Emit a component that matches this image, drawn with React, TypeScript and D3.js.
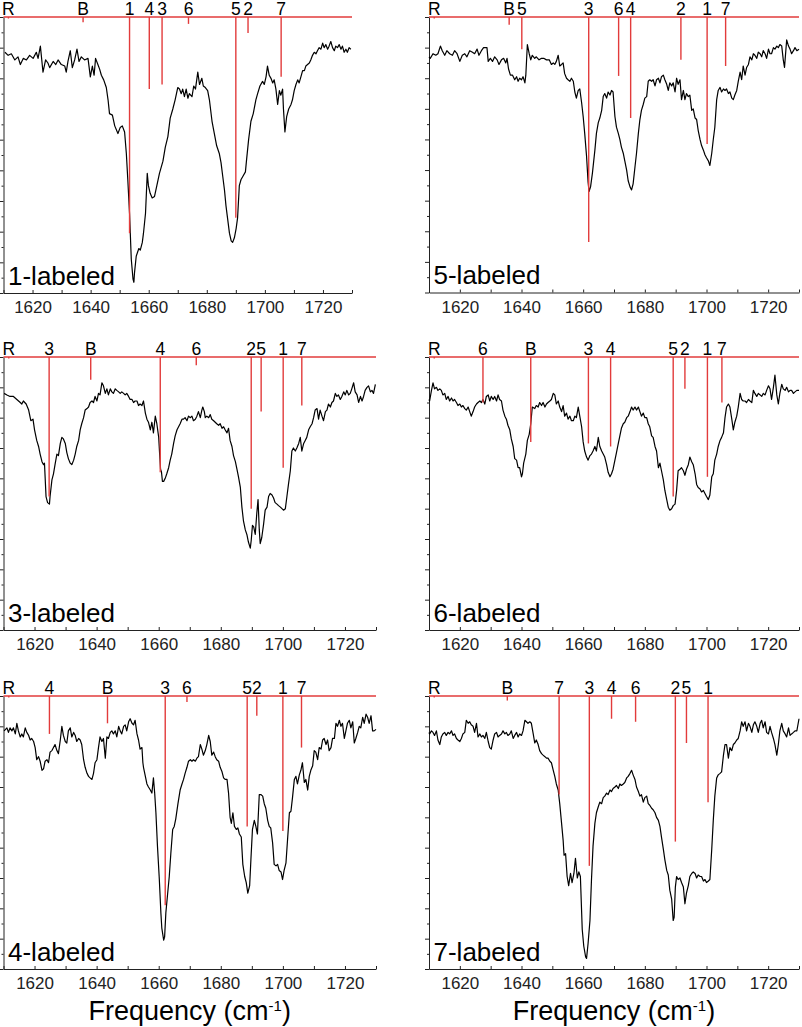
import React, { useEffect, useRef } from 'react'
import * as d3 from 'd3'

// spectra: [frequency cm-1, signal]
const spec1: [number, number][] = [
  [1610.5,15.7],[1611.6,15.5],[1612.7,15.6],[1613.9,15.2],[1615.0,15.4],[1615.8,14.9],[1616.8,15.3],[1617.9,15.2],[1619.0,15.5],[1620.2,15.3],
  [1621.3,15.7],[1621.9,15.3],[1622.7,16.1],[1623.6,14.4],[1624.5,15.2],[1625.3,15.0],[1625.9,14.7],[1627.1,15.1],[1628.0,14.9],[1628.8,15.2],
  [1629.9,14.9],[1631.1,14.8],[1631.6,14.4],[1632.2,15.1],[1633.0,15.8],[1633.7,14.7],[1634.5,15.2],[1635.3,15.9],[1636.0,15.1],[1636.8,15.4],
  [1637.9,15.2],[1639.1,15.3],[1639.9,14.1],[1640.6,14.8],[1641.2,14.2],[1641.7,15.3],[1642.5,14.9],[1643.1,14.6],[1643.7,14.2],[1644.5,13.9],
  [1645.4,13.4],[1646.0,12.6],[1646.5,11.7],[1647.5,11.6],[1648.3,10.9],[1649.4,10.4],[1650.2,10.8],[1650.9,10.9],[1651.7,10.5],[1652.3,9.1],
  [1652.8,7.4],[1653.4,5.2],[1654.0,2.2],[1654.6,0.9],[1654.9,0.7],[1655.1,1.3],[1655.7,2.4],[1656.6,2.9],[1657.1,2.8],[1657.8,3.3],
  [1658.2,3.9],[1658.9,5.2],[1659.5,7.8],[1659.9,7.0],[1660.5,6.5],[1661.2,6.2],[1662.0,6.3],[1662.8,7.0],[1663.7,7.8],[1664.9,8.6],
  [1665.7,9.5],[1666.6,10.2],[1667.4,11.4],[1668.3,12.0],[1669.1,12.6],[1670.0,13.4],[1670.6,13.3],[1671.2,13.0],[1671.7,13.3],[1672.3,12.8],
  [1672.9,13.3],[1673.5,12.7],[1674.0,13.0],[1674.9,12.8],[1675.5,13.5],[1676.1,13.3],[1676.9,14.4],[1677.5,13.6],[1678.3,14.0],[1678.8,13.5],
  [1679.5,13.4],[1680.3,13.2],[1680.9,12.6],[1681.8,11.2],[1682.6,10.4],[1683.4,9.6],[1684.3,9.1],[1684.9,8.5],[1685.5,7.6],[1686.1,6.7],
  [1686.6,5.7],[1687.2,4.8],[1687.8,3.9],[1688.4,3.4],[1688.9,3.3],[1689.5,3.6],[1690.1,4.2],[1690.6,4.9],[1691.2,7.0],[1691.8,7.4],
  [1692.4,7.6],[1693.3,7.9],[1693.7,8.7],[1694.4,10.0],[1695.2,11.2],[1696.0,11.7],[1696.9,12.6],[1697.5,13.0],[1698.3,13.5],[1699.2,13.8],
  [1699.8,13.6],[1700.4,14.1],[1700.9,14.8],[1701.5,14.2],[1702.1,14.0],[1702.7,13.7],[1703.2,13.9],[1703.8,13.3],[1704.4,12.3],[1705.0,13.2],
  [1705.5,12.9],[1706.1,13.3],[1706.4,12.0],[1706.9,10.5],[1707.5,11.5],[1708.2,12.0],[1709.0,12.3],[1709.5,12.6],[1710.1,13.2],[1710.7,13.6],
  [1711.3,13.9],[1711.8,13.7],[1712.4,14.1],[1713.0,14.5],[1713.6,14.5],[1714.1,14.8],[1714.7,14.9],[1715.3,15.0],[1715.8,15.2],[1716.4,15.5],
  [1717.0,15.7],[1717.6,15.6],[1718.1,15.8],[1718.7,16.0],[1719.3,15.9],[1719.9,16.3],[1720.4,16.0],[1721.0,16.2],[1721.6,15.9],[1722.1,16.1],
  [1722.7,16.4],[1723.3,16.0],[1723.9,15.8],[1724.4,16.1],[1725.0,16.0],[1725.6,16.2],[1726.2,15.9],[1726.7,16.1],[1727.3,15.7],[1727.9,15.9],
  [1728.4,15.7],[1729.0,16.0],[1729.6,15.9]
]

const spec2: [number, number][] = [
  [1610.0,15.4],[1610.4,15.3],[1611.3,15.6],[1612.2,15.5],[1612.9,15.6],[1613.7,16.1],[1614.3,15.8],[1615.1,15.5],[1615.8,15.8],[1616.7,15.6],
  [1617.6,15.5],[1618.3,15.8],[1619.1,15.6],[1620.0,15.1],[1620.8,15.5],[1621.6,15.6],[1622.3,15.4],[1623.2,15.8],[1624.1,15.7],[1624.8,15.6],
  [1625.6,15.9],[1626.2,15.5],[1627.0,15.8],[1627.7,16.0],[1628.4,16.0],[1628.8,16.0],[1629.2,15.1],[1629.9,15.3],[1630.6,15.1],[1631.3,15.4],
  [1632.1,15.2],[1632.7,14.9],[1633.5,15.2],[1634.2,15.3],[1634.9,15.0],[1635.3,15.3],[1635.8,14.6],[1636.4,14.2],[1637.1,14.2],[1637.8,13.9],
  [1638.4,14.1],[1638.9,13.8],[1639.4,14.0],[1640.0,13.9],[1640.5,14.1],[1641.1,13.7],[1641.4,14.2],[1641.9,16.2],[1642.5,15.6],[1643.0,15.2],
  [1643.5,15.5],[1644.3,15.3],[1644.8,15.4],[1645.7,15.2],[1646.5,15.3],[1647.2,15.3],[1648.1,15.2],[1649.0,15.2],[1649.7,14.9],[1650.3,15.0],
  [1650.8,14.9],[1651.3,15.1],[1651.9,15.5],[1652.4,14.8],[1653.0,14.9],[1653.5,15.0],[1654.0,14.3],[1654.6,14.0],[1655.1,13.9],[1655.7,13.8],
  [1656.2,14.0],[1656.8,13.8],[1657.3,13.1],[1657.8,12.7],[1658.4,13.2],[1658.9,13.3],[1659.5,12.4],[1660.0,11.5],[1660.5,10.4],[1661.1,8.9],
  [1661.6,7.2],[1661.9,6.6],[1662.4,6.9],[1663.0,7.8],[1663.8,9.3],[1664.3,10.4],[1664.9,11.1],[1665.4,11.4],[1666.0,11.9],[1666.5,12.8],
  [1667.0,13.0],[1667.6,12.7],[1668.1,13.1],[1668.7,12.9],[1669.2,13.2],[1669.7,13.1],[1670.3,11.5],[1670.8,10.8],[1671.4,10.4],[1671.9,10.0],
  [1672.4,9.5],[1673.0,9.1],[1673.5,8.6],[1674.1,8.0],[1674.6,7.3],[1675.2,6.9],[1675.7,6.7],[1676.2,7.1],[1676.8,8.2],[1677.3,9.1],
  [1677.9,10.4],[1678.4,11.3],[1678.9,11.9],[1679.5,12.3],[1680.0,12.7],[1680.6,12.8],[1681.1,13.8],[1681.6,13.9],[1682.2,13.8],[1682.7,13.9],
  [1683.3,13.5],[1683.8,13.9],[1684.4,14.0],[1684.9,13.7],[1685.4,14.1],[1686.0,14.2],[1686.5,13.9],[1687.1,13.6],[1687.6,13.2],[1688.1,13.7],
  [1688.7,13.5],[1689.2,13.7],[1689.8,13.1],[1690.3,14.0],[1690.8,13.6],[1691.4,13.9],[1691.9,12.6],[1692.5,13.2],[1693.0,12.6],[1693.5,13.0],
  [1694.1,12.8],[1694.6,12.9],[1695.2,11.9],[1695.7,12.0],[1696.3,11.4],[1696.8,11.3],[1697.3,10.6],[1697.9,10.0],[1698.4,9.6],[1699.0,9.3],
  [1699.5,9.0],[1700.0,8.8],[1700.6,8.6],[1701.1,8.3],[1701.7,9.1],[1702.2,10.0],[1702.7,10.8],[1703.3,12.6],[1703.8,13.2],[1704.4,13.4],
  [1704.9,13.1],[1705.5,13.3],[1706.0,13.2],[1706.5,13.3],[1707.1,13.0],[1707.6,13.1],[1708.2,12.7],[1708.7,12.6],[1709.2,12.9],[1709.8,13.2],
  [1710.3,13.8],[1710.9,14.4],[1711.4,13.9],[1711.9,14.8],[1712.5,14.2],[1713.0,14.7],[1713.6,14.9],[1714.1,15.4],[1714.7,15.2],[1715.2,15.6],
  [1715.7,15.5],[1716.3,15.3],[1716.8,15.7],[1717.4,15.6],[1717.9,15.4],[1718.4,15.8],[1719.0,15.6],[1719.5,15.3],[1720.1,15.9],[1720.6,15.6],
  [1721.1,15.6],[1721.7,16.0],[1722.2,15.9],[1722.8,16.1],[1723.3,16.0],[1723.8,16.2],[1724.4,16.1],[1724.9,15.2],[1725.3,14.7],[1726.0,16.5],
  [1726.6,16.1],[1727.1,15.9],[1727.6,15.6],[1728.2,15.8],[1728.7,16.0],[1729.3,15.8],[1730.0,15.9]
]

const spec3: [number, number][] = [
  [1610.2,15.6],[1611.1,15.5],[1612.1,15.4],[1613.2,15.4],[1614.3,15.2],[1615.4,15.0],[1615.9,14.9],[1616.4,15.1],[1617.3,14.9],[1618.1,14.5],
  [1618.8,13.8],[1619.5,13.9],[1620.0,13.2],[1620.7,12.5],[1621.3,12.1],[1621.8,11.6],[1622.4,11.1],[1622.9,10.9],[1623.2,11.0],[1623.7,8.8],
  [1624.2,8.4],[1624.8,8.3],[1625.0,8.8],[1625.6,9.9],[1626.1,10.3],[1626.6,10.9],[1627.2,11.6],[1627.7,11.5],[1628.3,12.3],[1628.8,12.7],
  [1629.3,12.6],[1629.9,12.3],[1630.4,11.7],[1630.9,11.3],[1631.5,11.0],[1632.0,10.9],[1632.6,11.2],[1633.1,11.6],[1633.6,12.1],[1634.2,12.5],
  [1634.7,13.2],[1635.2,13.6],[1635.8,14.0],[1636.3,14.5],[1636.9,14.6],[1637.4,14.7],[1637.9,15.0],[1638.5,15.1],[1639.0,15.0],[1639.5,15.4],
  [1640.1,15.1],[1640.6,15.6],[1641.1,15.5],[1641.7,16.3],[1642.2,16.1],[1642.8,15.6],[1643.3,15.9],[1643.8,15.5],[1644.4,15.9],[1644.9,15.7],
  [1645.4,15.6],[1646.0,15.9],[1646.5,15.8],[1647.1,15.7],[1647.6,15.6],[1648.1,15.7],[1648.7,15.6],[1649.2,15.5],[1649.7,15.6],[1650.3,15.4],
  [1650.8,15.2],[1651.4,15.2],[1651.9,15.0],[1652.4,15.1],[1653.0,15.1],[1653.5,14.8],[1654.0,14.9],[1654.6,14.8],[1655.1,15.1],[1655.7,14.3],
  [1656.2,13.9],[1656.7,13.7],[1657.3,13.2],[1657.8,13.7],[1658.3,13.0],[1658.9,14.1],[1659.4,13.6],[1660.0,12.7],[1660.3,11.6],[1660.6,10.6],
  [1660.9,10.4],[1661.2,9.8],[1661.6,9.8],[1662.1,10.0],[1662.6,10.3],[1663.2,10.7],[1663.7,11.2],[1664.2,11.6],[1664.8,12.3],[1665.3,12.8],
  [1665.9,13.2],[1666.4,13.4],[1666.9,13.6],[1667.5,13.9],[1668.0,13.9],[1668.5,14.0],[1669.1,13.8],[1669.6,14.1],[1670.2,14.0],[1670.7,14.1],
  [1671.2,13.8],[1671.8,13.9],[1672.3,14.1],[1672.8,14.4],[1673.4,14.0],[1673.9,14.5],[1674.2,14.7],[1674.7,14.4],[1675.0,14.0],[1675.5,14.1],
  [1676.1,14.0],[1676.6,14.2],[1677.1,13.9],[1677.7,13.8],[1678.2,13.7],[1678.7,13.6],[1679.3,13.5],[1679.8,13.6],[1680.4,13.3],[1680.9,13.4],
  [1681.4,13.2],[1682.0,13.0],[1682.5,13.3],[1683.0,12.5],[1683.6,12.1],[1684.1,11.5],[1684.7,11.1],[1685.2,10.6],[1685.7,10.1],[1686.3,9.4],
  [1686.8,8.1],[1687.3,7.2],[1687.9,6.6],[1688.4,6.3],[1688.9,5.8],[1689.5,5.4],[1689.8,5.9],[1690.2,6.9],[1690.6,6.8],[1691.1,6.3],
  [1691.6,7.7],[1692.0,8.6],[1692.4,6.6],[1692.7,5.7],[1693.2,6.1],[1693.8,7.0],[1694.3,7.9],[1694.9,8.1],[1695.4,8.8],[1695.9,9.0],
  [1696.5,8.9],[1697.0,8.7],[1697.5,8.4],[1698.1,8.3],[1698.6,8.2],[1699.2,8.1],[1699.7,8.0],[1700.2,7.9],[1700.8,8.0],[1701.3,8.8],
  [1701.8,9.6],[1702.4,10.5],[1702.9,11.8],[1703.4,12.0],[1704.0,11.8],[1704.5,12.0],[1705.1,12.3],[1705.6,12.7],[1706.1,11.8],[1706.7,12.3],
  [1707.2,12.5],[1707.7,12.7],[1708.3,13.2],[1708.8,13.4],[1709.4,13.6],[1709.9,14.0],[1710.4,14.5],[1711.0,14.6],[1711.5,13.9],[1712.0,14.5],
  [1712.6,14.1],[1713.1,13.8],[1713.7,14.4],[1714.2,14.5],[1714.7,14.9],[1715.3,14.7],[1715.8,15.0],[1716.3,15.1],[1716.9,15.6],[1717.4,15.4],
  [1717.9,15.5],[1718.5,15.2],[1719.0,15.4],[1719.6,15.7],[1720.1,15.5],[1720.6,15.8],[1721.2,15.5],[1721.7,15.6],[1722.2,15.9],[1722.8,16.3],
  [1723.3,15.7],[1723.9,15.5],[1724.4,15.0],[1725.0,15.4],[1725.5,15.1],[1726.0,15.4],[1726.5,15.8],[1727.1,16.0],[1727.6,16.1],[1728.2,15.7],
  [1728.7,15.8],[1729.2,15.6],[1729.8,16.2]
]

const spec4: [number, number][] = [
  [1610.0,15.2],[1610.2,15.1],[1610.8,15.8],[1611.3,16.3],[1611.8,15.9],[1612.4,16.0],[1612.9,15.8],[1613.5,15.9],[1614.0,15.8],[1614.5,15.5],
  [1615.1,15.6],[1615.6,15.2],[1616.2,15.4],[1616.7,15.1],[1617.3,15.3],[1617.8,15.1],[1618.3,15.2],[1618.9,15.0],[1619.4,14.8],[1620.0,14.9],
  [1620.5,14.7],[1621.0,14.8],[1621.6,14.6],[1622.1,14.5],[1622.7,14.7],[1623.2,14.4],[1623.7,14.1],[1624.3,14.4],[1624.8,14.7],[1625.4,14.9],
  [1625.9,15.0],[1626.5,15.1],[1627.0,15.0],[1627.5,15.2],[1628.1,14.9],[1628.6,15.4],[1629.2,15.5],[1629.7,15.1],[1630.2,15.4],[1630.8,15.2],
  [1631.3,15.4],[1631.9,15.1],[1632.4,15.5],[1632.9,15.2],[1633.5,15.1],[1634.0,14.5],[1634.6,14.1],[1635.1,13.9],[1635.6,13.5],[1636.2,13.2],
  [1636.7,12.6],[1637.3,12.1],[1637.8,11.3],[1638.4,11.2],[1638.9,10.7],[1639.4,10.7],[1640.0,10.1],[1640.3,10.3],[1640.7,11.0],[1641.4,11.6],
  [1641.9,12.5],[1642.5,12.9],[1643.0,13.6],[1643.5,14.7],[1644.3,14.6],[1644.8,14.8],[1645.4,14.7],[1645.9,15.0],[1646.5,14.8],[1647.0,15.0],
  [1647.6,14.7],[1648.1,14.9],[1648.6,15.0],[1649.2,15.1],[1649.7,15.2],[1650.3,15.6],[1650.8,15.5],[1651.3,14.9],[1651.9,15.1],[1652.4,14.7],
  [1653.0,14.4],[1653.5,14.8],[1654.0,14.1],[1654.6,14.3],[1655.1,13.9],[1655.7,14.1],[1656.2,13.8],[1656.8,13.8],[1657.3,14.1],[1657.8,14.0],
  [1658.4,14.7],[1658.9,14.1],[1659.5,13.4],[1660.0,12.4],[1660.5,11.8],[1661.1,11.4],[1661.6,11.2],[1662.2,11.5],[1662.7,11.6],[1663.2,11.8],
  [1663.8,12.1],[1664.3,11.8],[1664.9,12.7],[1665.4,12.1],[1666.0,11.8],[1666.5,11.6],[1667.0,11.4],[1667.6,10.9],[1668.1,10.4],[1668.7,10.1],
  [1669.2,10.3],[1669.7,10.6],[1670.3,11.2],[1670.8,11.7],[1671.4,12.3],[1671.9,12.8],[1672.4,13.3],[1673.0,13.6],[1673.5,13.7],[1674.1,14.0],
  [1674.6,14.1],[1675.2,14.4],[1675.7,14.7],[1676.2,14.5],[1676.8,14.7],[1677.3,14.5],[1677.9,14.7],[1678.4,14.4],[1678.9,14.1],[1679.5,14.3],
  [1680.0,14.0],[1680.6,14.0],[1681.1,13.6],[1681.6,13.4],[1682.2,12.8],[1682.7,12.7],[1683.3,12.1],[1683.8,11.8],[1684.4,10.7],[1684.9,11.0],
  [1685.4,10.5],[1686.0,9.9],[1686.5,9.2],[1687.1,8.6],[1687.6,8.1],[1688.1,7.9],[1688.7,8.0],[1689.2,8.2],[1689.8,8.3],[1690.3,9.2],
  [1690.8,10.5],[1691.4,10.6],[1691.9,10.7],[1692.5,10.5],[1693.0,10.2],[1693.5,10.6],[1694.1,10.9],[1694.6,11.4],[1695.2,11.1],[1695.7,10.9],
  [1696.3,10.3],[1696.8,9.6],[1697.3,9.4],[1697.9,9.3],[1698.4,9.1],[1699.0,9.2],[1699.5,9.0],[1700.0,8.8],[1700.6,8.6],[1701.1,8.9],
  [1701.7,10.1],[1702.2,10.3],[1702.7,11.2],[1703.3,11.6],[1703.8,12.1],[1704.4,12.5],[1704.9,12.7],[1705.5,13.0],[1706.0,14.0],[1706.5,14.7],
  [1707.1,14.9],[1707.6,14.7],[1708.2,13.9],[1708.7,13.2],[1709.2,13.7],[1709.8,14.1],[1710.3,14.7],[1710.9,15.6],[1711.4,15.2],[1711.9,15.1],
  [1712.5,15.1],[1713.0,15.0],[1713.6,15.2],[1714.1,15.1],[1714.7,15.0],[1715.2,15.8],[1715.7,15.6],[1716.3,15.4],[1716.8,15.6],[1717.4,15.5],
  [1717.9,15.4],[1718.4,15.6],[1719.0,15.5],[1719.5,15.8],[1720.1,16.1],[1720.6,15.9],[1721.1,15.2],[1721.7,16.0],[1722.2,16.8],[1722.8,15.5],
  [1723.3,14.9],[1723.8,15.6],[1724.4,16.2],[1724.9,15.9],[1725.5,15.8],[1726.0,16.0],[1726.6,15.7],[1727.1,15.8],[1727.6,15.8],[1728.2,15.6],
  [1728.7,15.7],[1729.3,15.8],[1730.0,15.8]
]

const spec5: [number, number][] = [
  [1610.2,15.7],[1611.1,15.9],[1611.6,15.6],[1612.1,15.9],[1612.7,15.7],[1613.2,15.9],[1613.8,15.5],[1614.3,16.2],[1614.8,15.7],[1615.4,15.3],
  [1615.9,15.5],[1616.4,15.3],[1617.0,15.9],[1617.5,15.6],[1618.1,15.4],[1618.6,15.1],[1619.1,15.2],[1619.7,15.0],[1620.2,14.6],[1620.7,13.8],
  [1621.3,14.0],[1621.8,13.7],[1622.4,13.1],[1622.9,13.2],[1623.4,13.7],[1624.0,13.8],[1624.5,13.6],[1625.0,14.3],[1625.6,14.4],[1626.1,14.6],
  [1626.6,14.8],[1627.2,14.4],[1627.7,14.2],[1628.3,15.1],[1628.8,16.0],[1629.3,15.4],[1629.9,15.0],[1630.4,14.9],[1630.9,15.7],[1631.5,15.9],
  [1632.0,15.3],[1632.6,15.6],[1633.1,15.4],[1633.6,15.0],[1634.2,15.2],[1634.7,15.1],[1635.2,14.8],[1635.8,13.8],[1636.3,13.3],[1636.9,12.9],
  [1637.4,12.7],[1637.9,12.6],[1638.5,12.5],[1639.0,12.9],[1639.5,13.6],[1640.1,13.8],[1640.6,14.6],[1641.1,15.3],[1641.7,15.0],[1642.2,15.2],
  [1642.8,13.9],[1643.3,15.3],[1643.8,15.2],[1644.4,15.6],[1644.9,15.7],[1645.4,15.5],[1646.0,15.7],[1646.5,15.3],[1647.1,16.0],[1647.6,15.7],
  [1648.1,15.5],[1648.7,16.0],[1649.2,16.1],[1649.7,15.7],[1650.3,16.3],[1650.8,16.5],[1651.4,16.2],[1651.9,16.1],[1652.4,16.4],[1653.0,15.5],
  [1653.5,15.1],[1654.0,14.5],[1654.6,14.6],[1654.9,13.6],[1655.1,13.3],[1655.7,12.7],[1656.2,12.2],[1656.7,12.0],[1657.3,11.8],[1657.8,11.6],
  [1658.3,12.6],[1658.7,11.6],[1659.1,10.3],[1659.6,8.1],[1660.2,5.9],[1660.7,3.7],[1661.0,2.7],[1661.6,1.9],[1661.9,2.1],[1662.3,3.7],
  [1662.8,4.8],[1663.4,6.1],[1663.9,7.6],[1664.5,9.2],[1665.0,9.4],[1665.5,9.9],[1666.2,10.9],[1666.9,11.8],[1667.5,12.2],[1668.0,12.5],
  [1668.5,12.9],[1669.1,13.3],[1669.6,13.7],[1670.2,13.8],[1670.7,13.7],[1671.2,13.8],[1671.8,13.7],[1672.3,13.9],[1672.8,14.0],[1673.4,14.8],
  [1673.9,14.5],[1674.4,14.1],[1675.0,14.4],[1675.5,14.8],[1676.1,15.4],[1676.6,15.0],[1677.1,14.1],[1677.7,14.3],[1678.2,14.0],[1678.7,13.8],
  [1679.3,13.7],[1679.8,13.3],[1680.4,13.0],[1680.9,12.6],[1681.4,12.5],[1682.0,12.5],[1682.5,11.6],[1683.0,10.0],[1683.4,9.6],[1683.9,10.3],
  [1684.4,9.4],[1685.0,9.2],[1685.5,9.3],[1686.0,8.9],[1686.6,8.7],[1687.1,6.9],[1687.7,6.1],[1688.2,5.7],[1688.7,5.0],[1689.3,5.5],
  [1689.7,7.2],[1690.2,9.2],[1690.8,9.8],[1691.3,9.4],[1691.8,8.9],[1692.4,11.5],[1692.9,11.5],[1693.5,11.4],[1694.0,10.9],[1694.5,10.6],
  [1695.1,9.8],[1695.6,9.4],[1696.1,9.3],[1696.7,8.3],[1697.2,6.9],[1697.8,6.8],[1698.3,6.9],[1698.8,6.5],[1699.4,6.4],[1699.9,5.9],
  [1700.4,6.5],[1701.0,7.0],[1701.5,8.5],[1702.1,10.3],[1702.6,10.4],[1703.1,11.3],[1703.7,12.5],[1704.2,12.7],[1704.7,12.2],[1705.3,12.8],
  [1705.8,13.1],[1706.3,13.6],[1706.9,12.3],[1707.4,12.5],[1708.0,11.8],[1708.5,12.7],[1709.0,13.1],[1709.6,13.4],[1710.1,14.4],[1710.6,14.3],
  [1711.2,13.8],[1711.7,14.6],[1712.3,14.5],[1712.8,15.1],[1713.3,15.2],[1713.9,14.8],[1714.4,15.1],[1714.9,14.4],[1715.5,14.6],[1716.0,15.2],
  [1716.6,15.2],[1717.1,16.2],[1717.6,16.0],[1718.2,16.4],[1718.7,16.0],[1719.2,16.2],[1719.8,15.2],[1720.3,15.7],[1720.8,16.2],[1721.4,16.4],
  [1721.9,15.9],[1722.5,16.3],[1723.0,14.9],[1723.5,15.2],[1724.1,15.6],[1724.6,16.0],[1725.1,15.9],[1725.7,16.6],[1726.2,16.2],[1726.8,16.8],
  [1727.3,16.6],[1727.8,16.2],[1728.4,16.7],[1728.9,15.7],[1729.4,15.7],[1730.0,15.8]
]

const spec6: [number, number][] = [
  [1610.0,15.6],[1610.2,15.5],[1610.8,15.7],[1611.3,15.6],[1611.8,15.4],[1612.4,15.7],[1612.9,15.1],[1613.5,14.8],[1614.0,15.3],[1614.5,15.5],
  [1615.1,15.6],[1615.6,15.4],[1616.2,15.6],[1616.7,15.5],[1617.3,15.7],[1617.8,15.4],[1618.3,15.5],[1618.9,15.2],[1619.4,15.1],[1620.0,15.0],
  [1620.5,15.2],[1621.0,15.5],[1621.6,15.6],[1622.1,16.4],[1622.7,16.2],[1623.2,16.3],[1623.7,16.1],[1624.3,16.0],[1624.8,15.6],[1625.4,16.2],
  [1625.9,15.3],[1626.5,15.5],[1627.0,15.3],[1627.5,15.4],[1628.1,15.2],[1628.6,15.6],[1629.2,15.0],[1629.7,14.6],[1630.2,14.5],[1630.8,15.1],
  [1631.3,15.5],[1631.9,15.6],[1632.4,15.3],[1632.9,15.4],[1633.5,15.5],[1634.0,15.7],[1634.6,15.5],[1635.1,15.6],[1635.6,15.4],[1636.2,15.5],
  [1636.7,15.7],[1637.3,15.2],[1637.8,15.4],[1638.4,15.6],[1638.9,15.3],[1639.4,15.5],[1640.0,15.4],[1640.5,15.7],[1641.1,16.4],[1641.6,16.3],
  [1642.1,16.2],[1642.7,16.3],[1643.2,16.2],[1643.8,15.5],[1644.3,14.9],[1644.8,15.1],[1645.4,14.8],[1645.9,14.4],[1646.5,14.2],[1647.0,14.1],
  [1647.6,14.0],[1648.1,13.9],[1648.6,13.9],[1649.2,13.7],[1649.7,13.6],[1650.3,13.1],[1650.8,12.7],[1651.3,12.2],[1651.9,11.8],[1652.4,10.9],
  [1653.0,9.6],[1653.5,8.5],[1653.8,7.5],[1654.3,7.6],[1654.8,6.1],[1655.3,5.5],[1655.9,6.3],[1656.4,5.7],[1657.0,6.3],[1657.5,7.3],
  [1658.1,6.0],[1658.6,6.4],[1659.1,6.1],[1659.7,2.6],[1660.2,1.5],[1660.8,0.8],[1661.1,0.7],[1661.6,1.7],[1662.2,3.2],[1662.7,5.9],
  [1663.2,8.1],[1663.8,9.6],[1664.3,10.3],[1664.9,10.7],[1665.4,11.0],[1666.0,10.9],[1666.5,11.3],[1667.0,11.4],[1667.6,11.6],[1668.1,11.5],
  [1668.7,11.8],[1669.2,11.7],[1669.7,11.9],[1670.3,12.0],[1670.8,12.1],[1671.4,11.9],[1671.9,12.2],[1672.4,12.1],[1673.0,12.2],[1673.5,12.3],
  [1674.1,12.6],[1674.6,12.7],[1675.2,12.9],[1675.7,13.1],[1676.2,12.8],[1676.8,12.5],[1677.3,12.0],[1677.9,11.7],[1678.4,11.4],[1678.9,11.5],
  [1679.5,11.0],[1680.0,11.3],[1680.6,11.4],[1681.1,10.9],[1681.6,10.8],[1682.2,10.6],[1682.7,10.5],[1683.3,10.3],[1683.8,10.0],[1684.4,9.8],
  [1684.9,9.4],[1685.4,8.7],[1686.0,7.9],[1686.5,7.2],[1687.1,6.5],[1687.6,6.2],[1688.1,5.2],[1688.7,4.6],[1689.2,3.2],[1689.5,3.4],
  [1689.9,5.4],[1690.3,6.1],[1690.8,5.9],[1691.4,6.0],[1691.9,5.7],[1692.5,5.4],[1693.0,4.3],[1693.5,5.0],[1694.1,5.5],[1694.6,6.1],
  [1695.2,6.3],[1695.7,6.4],[1696.3,6.3],[1696.8,6.0],[1697.3,6.2],[1697.9,6.1],[1698.4,6.1],[1699.0,5.8],[1699.5,5.9],[1700.0,5.7],
  [1700.6,5.8],[1701.1,5.9],[1701.7,7.9],[1702.2,9.8],[1702.7,11.4],[1703.3,12.6],[1703.8,12.8],[1704.4,12.9],[1704.9,13.0],[1705.5,14.1],
  [1706.0,14.8],[1706.5,14.8],[1707.1,13.9],[1707.6,14.6],[1708.2,14.4],[1708.7,14.8],[1709.2,14.9],[1709.8,15.1],[1710.3,15.2],[1710.9,15.7],
  [1711.4,16.3],[1711.9,16.0],[1712.5,16.3],[1713.0,15.7],[1713.6,16.2],[1714.1,16.0],[1714.7,15.6],[1715.2,16.1],[1715.7,16.3],[1716.3,16.0],
  [1716.8,15.6],[1717.4,16.2],[1717.9,16.4],[1718.4,15.9],[1719.0,16.3],[1719.5,15.6],[1720.1,15.5],[1720.6,16.0],[1721.1,15.6],[1721.7,15.2],
  [1722.2,14.8],[1722.8,14.1],[1723.3,14.8],[1723.8,15.7],[1724.4,16.2],[1724.9,15.7],[1725.5,15.5],[1726.0,15.3],[1726.6,15.9],[1727.1,15.4],
  [1727.6,15.5],[1728.2,15.6],[1728.7,15.7],[1729.3,15.7],[1730.0,16.5]
]

// stick spectra: [label, frequency, depth below the top line]
const sticks1: [string, number, number][] = [
  ['R',1611.7,0.1],['B',1637.4,0.35],['1',1653.4,14.1],['4',1660.2,4.7],['3',1664.6,4.4],
  ['6',1673.7,0.45],['5',1690.0,13.1],['2',1694.2,1.05],['7',1705.6,3.9]
]
const sticks2: [string, number, number][] = [
  ['R',1611.7,0.1],['B',1636.0,0.5],['5',1640.1,2.1],['3',1661.8,14.7],['6',1671.5,3.85],
  ['4',1675.4,6.6],['2',1691.7,2.8],['1',1700.2,8.3],['7',1706.2,3.2]
]
const sticks3: [string, number, number][] = [
  ['R',1611.7,0.1],['3',1624.7,9.2],['B',1638.1,1.5],['4',1660.5,7.6],['6',1672.1,0.55],
  ['2',1689.8,10.0],['5',1693.0,3.6],['1',1700.1,7.3],['7',1706.1,3.2]
]
const sticks4: [string, number, number][] = [
  ['R',1611.7,0.1],['6',1627.5,3.0],['B',1643.0,5.6],['3',1661.7,5.7],['4',1668.9,5.9],
  ['5',1689.2,9.2],['2',1693.0,2.1],['1',1700.3,7.9],['7',1705.0,3.0]
]
const sticks5: [string, number, number][] = [
  ['R',1611.7,0.1],['4',1624.8,2.5],['B',1643.5,1.8],['3',1662.1,13.8],['6',1669.1,0.4],
  ['5',1688.5,8.6],['2',1691.6,1.3],['1',1700.0,8.9],['7',1706.0,3.4]
]
const sticks6: [string, number, number][] = [
  ['R',1611.7,0.1],['B',1635.4,0.3],['7',1652.2,6.5],['3',1662.0,11.2],['4',1669.2,1.5],
  ['6',1677.0,1.7],['2',1689.9,9.6],['5',1693.5,3.1],['1',1700.5,7.0]
]

const panelNames = ['1-labeled', '5-labeled', '3-labeled', '6-labeled', '4-labeled', '7-labeled']
const xTicks = [1610, 1620, 1630, 1640, 1650, 1660, 1670, 1680, 1690, 1700, 1710, 1720, 1730]
const yTicks = [0, 1, 2, 3, 4, 5, 6, 7, 8, 9, 10, 11, 12, 13, 14, 15, 16, 17, 18]

const spectra = [spec1, spec2, spec3, spec4, spec5, spec6]
const sticks = [sticks1, sticks2, sticks3, sticks4, sticks5, sticks6]

const W = 802
const H = 1027
const RED = '#e23b3b'
const FONT = 'Liberation Sans, Arial, Helvetica, sans-serif'

// plot frames, pixels
const frames = [
  { x0: 3.5, x1: 352, top: 17, bottom: 293 },
  { x0: 429, x1: 799, top: 17, bottom: 292.5 },
  { x0: 3.5, x1: 376, top: 357, bottom: 630 },
  { x0: 429, x1: 799, top: 357, bottom: 630 },
  { x0: 3.5, x1: 376, top: 696, bottom: 969 },
  { x0: 429, x1: 799, top: 696, bottom: 969 }
]

export default function App() {
  const ref = useRef<SVGSVGElement | null>(null)

  useEffect(() => {
    const svg = d3.select(ref.current)
    svg.selectAll('*').remove()

    frames.forEach((f, i) => {
      const x = d3.scaleLinear().domain([1610, 1730]).range([f.x0, f.x1])
      const y = d3.scaleLinear().domain([0, 18]).range([f.bottom, f.top])
      const g = svg.append('g')

      // bottom axis
      const xa = g.append('g')
        .attr('transform', `translate(0,${f.bottom})`)
        .call(d3.axisBottom(x)
          .tickValues(xTicks)
          .tickSize(-3)
          .tickSizeOuter(0)
          .tickPadding(8)
          .tickFormat((d: any) => (d % 20 === 0 ? String(d) : '')))
      xa.select('.domain').attr('stroke', '#222')
      xa.selectAll('.tick line').attr('stroke', '#222')
      xa.selectAll('.tick text')
        .attr('font-family', FONT)
        .attr('font-size', 17)
        .attr('fill', '#222')

      // left axis, long ticks on even values
      const ya = g.append('g')
        .attr('transform', `translate(${f.x0},0)`)
        .call(d3.axisLeft(y)
          .tickValues(yTicks.filter(v => v % 2 === 1))
          .tickSize(2)
          .tickSizeOuter(0)
          .tickFormat(() => ''))
      ya.select('.domain').attr('stroke', '#222')
      ya.selectAll('.tick line').attr('stroke', '#222')
      const ya2 = g.append('g')
        .attr('transform', `translate(${f.x0},0)`)
        .call(d3.axisLeft(y)
          .tickValues(yTicks.filter(v => v % 2 === 0))
          .tickSize(4)
          .tickSizeOuter(0)
          .tickFormat(() => ''))
      ya2.select('.domain').remove()
      ya2.selectAll('.tick line').attr('stroke', '#222')

      // spectrum
      const line = d3.line<[number, number]>()
        .x(d => x(d[0]))
        .y(d => y(d[1]))
      g.append('path')
        .datum(spectra[i])
        .attr('d', line)
        .attr('fill', 'none')
        .attr('stroke', '#000')
        .attr('stroke-width', 1.2)
        .attr('stroke-linejoin', 'round')

      // red reference line and sticks
      g.append('line')
        .attr('x1', f.x0).attr('x2', f.x1)
        .attr('y1', y(18)).attr('y2', y(18))
        .attr('stroke', RED)
        .attr('stroke-width', 1.5)

      g.selectAll('.stick')
        .data(sticks[i])
        .enter()
        .append('line')
        .attr('class', 'stick')
        .attr('x1', d => x(d[1])).attr('x2', d => x(d[1]))
        .attr('y1', y(18)).attr('y2', d => y(18 - d[2]))
        .attr('stroke', RED)
        .attr('stroke-width', 1.4)

      g.selectAll('.stick-label')
        .data(sticks[i])
        .enter()
        .append('text')
        .attr('class', 'stick-label')
        .attr('x', d => x(d[1]))
        .attr('y', y(18) - 2.3)
        .attr('text-anchor', 'middle')
        .attr('font-family', FONT)
        .attr('font-size', 17.5)
        .attr('fill', '#000')
        .text(d => d[0])

      g.append('text')
        .attr('x', f.x0 + 4.5)
        .attr('y', f.bottom - 8.5)
        .attr('font-family', FONT)
        .attr('font-size', 26)
        .attr('fill', '#000')
        .text(panelNames[i])

      // axis title under the bottom row
      if (i >= 4) {
        const t = g.append('text')
          .attr('x', (f.x0 + f.x1) / 2)
          .attr('y', 1020)
          .attr('text-anchor', 'middle')
          .attr('font-family', FONT)
          .attr('font-size', 27)
          .attr('fill', '#000')
        t.append('tspan').text('Frequency (cm')
        t.append('tspan').attr('dy', -9).attr('font-size', 15).text('-1')
        t.append('tspan').attr('dy', 9).text(')')
      }
    })
  }, [])

  return (
    <svg
      ref={ref}
      width={W}
      height={H}
      style={{ position: 'absolute', left: 0, top: 0, background: '#fff', display: 'block' }}
    />
  )
}
